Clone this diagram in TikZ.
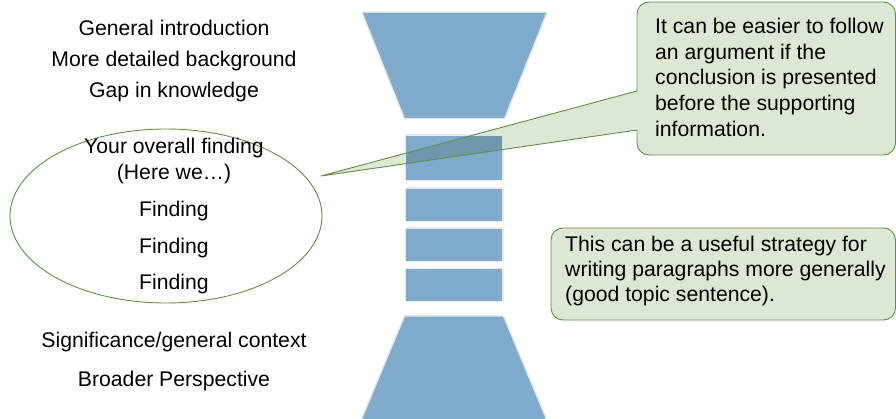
\documentclass[tikz,border=0pt]{standalone}
\usepackage{fontspec}
\setmainfont{Liberation Sans}
\definecolor{funnelblue}{RGB}{127,171,205}
\definecolor{notefill}{RGB}{221,231,214}
\definecolor{noteline}{RGB}{95,145,65}
\definecolor{overlap}{RGB}{110,153,172}
\begin{document}
\begin{tikzpicture}[x=1pt,y=1pt,
  funnel/.style={fill=funnelblue, preaction={draw=black!9, line width=3pt, line join=round}},
  label/.style={anchor=base, inner sep=0pt, font=\fontsize{21.2}{25}\selectfont},
  notebox/.style={fill=notefill, draw=noteline, line width=0.9pt, line join=round},
  notetext/.style={anchor=base west, inner sep=0pt}
]
\useasboundingbox (0,0) rectangle (896,418);

% funnel: wide top, four middle blocks, wide base
\fill[funnel] (363,405) -- (546,405) -- (504,300) -- (405,300) -- cycle;
\fill[funnel] (406,282) rectangle (502,238);
\fill[funnel] (406,229) rectangle (502,197.3);
\fill[funnel] (406,189) rectangle (502,157.3);
\fill[funnel] (406,149) rectangle (502,117.3);
\fill[funnel] (405,101.3) -- (503,101.3) -- (546,-2) -- (362,-2) -- cycle;

% left column labels
\node[label] (gen)  at (174,382)   {General introduction};
\node[label] (bg)   at (174,351.3) {More detailed background};
\node[label] (gap)  at (174,320)   {Gap in knowledge};

% findings grouped in an ellipse
\draw[draw=noteline, line width=0.9pt] (166,202) ellipse (156 and 87);
\node[label] (ov)   at (174,264)   {Your overall finding};
\node[label] (here) at (174,238)   {(Here we…)};
\node[label] (f1)   at (174,201)   {Finding};
\node[label] (f2)   at (174,164.4) {Finding};
\node[label] (f3)   at (174,128.4) {Finding};

\node[label] (sig)  at (174,70.7)  {Significance/general context};
\node[label] (broad) at (174,32)   {Broader Perspective};

% speech callout pointing at the ellipse
\def\calloutpath{(637,327) -- (637,404)
  arc[start angle=180, end angle=90, radius=12] -- (883.5,416)
  arc[start angle=90, end angle=0, radius=12] -- (895.5,275)
  arc[start angle=0, end angle=-90, radius=12] -- (649,263)
  arc[start angle=270, end angle=180, radius=12] -- (637,288)
  -- (321,242) -- cycle}
\fill[notefill] \calloutpath;
% tinted part of the tail where it crosses the first block
\begin{scope}
  \clip (637,327) -- (321,242) -- (637,288) -- cycle;
  \fill[overlap] (406,282) rectangle (502,238);
\end{scope}
\draw[draw=noteline, line width=0.9pt, line join=round] \calloutpath;
\node[notetext] (note1) at (655,384.7) {\parbox[t]{240pt}{\raggedright\fontsize{21.2}{25.85}\selectfont
  It can be easier to follow\\ an argument if the\\ conclusion is presented\\ before the supporting\\ information.}};

% second note
\draw[notebox, rounded corners=12pt] (551,98) rectangle (895.5,190);
\node[notetext] (note2) at (565,167) {\parbox[t]{330pt}{\raggedright\fontsize{21.2}{25.3}\selectfont
  This can be a useful strategy for\\ writing paragraphs more generally\\ (good topic sentence).}};
\end{tikzpicture}
\end{document}
